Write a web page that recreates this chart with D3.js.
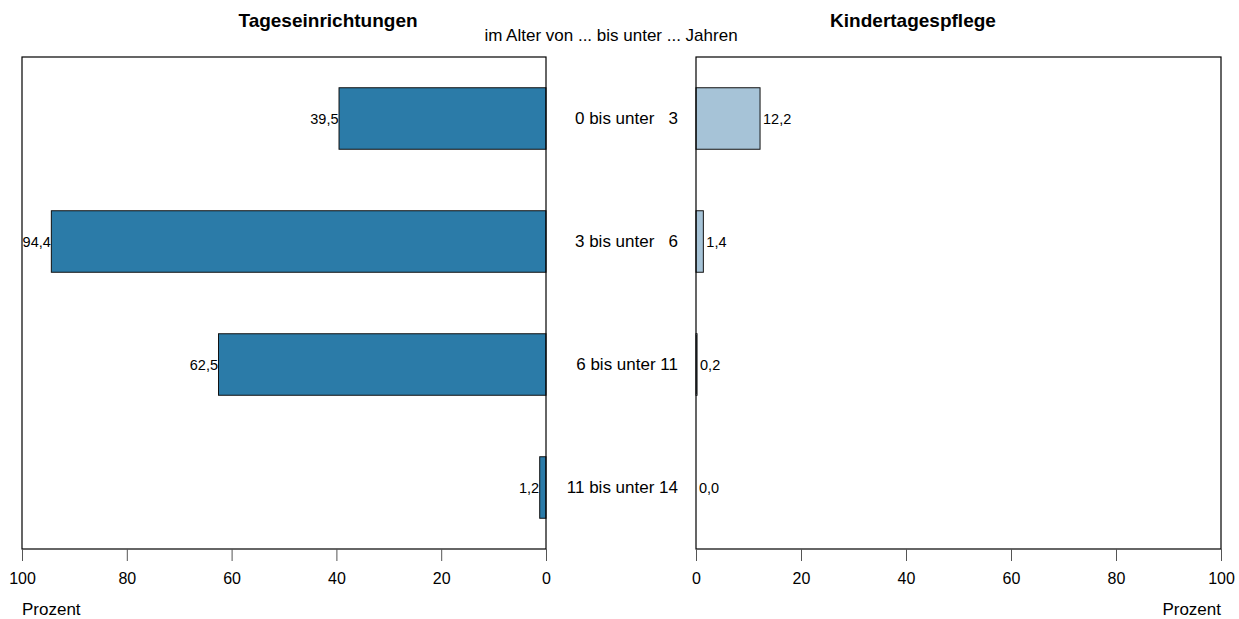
<!DOCTYPE html>
<html><head><meta charset="utf-8">
<script src="https://cdn.jsdelivr.net/npm/d3@7"></script>
<style>body{margin:0;background:#fff}svg{display:block;font-family:"Liberation Sans",Arial,sans-serif}</style>
</head><body><svg id="c" width="1239" height="619"></svg>
<script>
const categories = ["0 bis unter   3", "3 bis unter   6", "6 bis unter 11", "11 bis unter 14"];
const tageseinrichtungen = [39.5, 94.4, 62.5, 1.2];
const kindertagespflege = [12.2, 1.4, 0.2, 0.0];
const tickValues = [0, 20, 40, 60, 80, 100];
const fmt = v => v.toFixed(1).replace(".", ",");

const svg = d3.select("#c");
const plotTop = 57, plotBottom = 549;
const y = d3.scaleBand().domain(categories).range([plotTop, plotBottom]).paddingInner(0.5).paddingOuter(0.25);
const xL = d3.scaleLinear().domain([100, 0]).range([22, 546]);
const xR = d3.scaleLinear().domain([0, 100]).range([696, 1221]);

function panel(x, data, color, left) {
  const g = svg.append("g");
  g.selectAll("rect.bar").data(data).join("rect")
    .attr("x", d => left ? x(d) : x(0))
    .attr("width", d => Math.abs(x(d) - x(0)))
    .attr("y", (d, i) => y(categories[i]))
    .attr("height", y.bandwidth())
    .attr("fill", color).attr("stroke", "#111").attr("stroke-width", 1);
  g.selectAll("text.val").data(data).join("text")
    .attr("x", d => left ? x(d) - 0.5 : x(d) + 3)
    .attr("y", (d, i) => y(categories[i]) + y.bandwidth() / 2)
    .attr("dy", "0.35em").attr("text-anchor", left ? "end" : "start")
    .attr("font-size", 14.5).attr("fill", "#000").text(fmt);
  const [a, b] = x.range();
  g.append("rect").attr("x", Math.min(a, b)).attr("y", plotTop).attr("width", Math.abs(b - a)).attr("height", plotBottom - plotTop)
    .attr("fill", "none").attr("stroke", "#000").attr("stroke-width", 1.2);
  const ax = g.append("g").attr("transform", `translate(0,${plotBottom})`)
    .call(d3.axisBottom(x).tickValues(tickValues).tickSize(12).tickPadding(12).tickFormat(d3.format("d")));
  ax.select(".domain").remove();
  ax.selectAll(".tick line").attr("stroke", "#555");
  ax.selectAll(".tick text").attr("font-size", 16).attr("font-family", "Liberation Sans, Arial, sans-serif").attr("fill", "#000");
}
panel(xL, tageseinrichtungen, "#2b7ba8", true);
panel(xR, kindertagespflege, "#a6c3d7", false);

svg.selectAll("text.cat").data(categories).join("text")
  .attr("class", "cat").attr("x", 678).attr("y", d => y(d) + y.bandwidth() / 2)
  .attr("dy", "0.35em").attr("text-anchor", "end").attr("font-size", 17)
  .style("white-space", "pre").text(d => d);

svg.append("text").attr("x", 328).attr("y", 27).attr("text-anchor", "middle").attr("font-size", 19).attr("font-weight", "bold").text("Tageseinrichtungen");
svg.append("text").attr("x", 913).attr("y", 27).attr("text-anchor", "middle").attr("font-size", 19).attr("font-weight", "bold").text("Kindertagespflege");
svg.append("text").attr("x", 611).attr("y", 41).attr("text-anchor", "middle").attr("font-size", 17).text("im Alter von ... bis unter ... Jahren");
svg.append("text").attr("x", 22).attr("y", 615).attr("text-anchor", "start").attr("font-size", 17).text("Prozent");
svg.append("text").attr("x", 1221).attr("y", 615).attr("text-anchor", "end").attr("font-size", 17).text("Prozent");
</script></body></html>
